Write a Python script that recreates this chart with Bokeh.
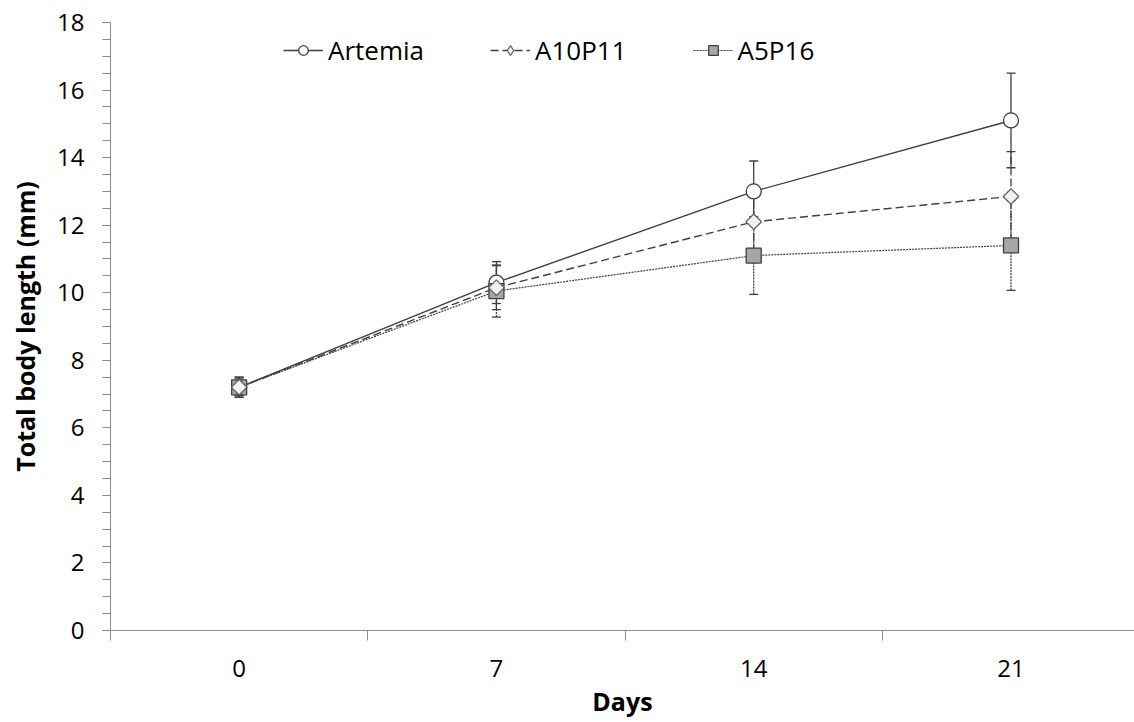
import numpy as np
from bokeh.plotting import figure
from bokeh.models import (ColumnDataSource, Whisker, TeeHead, FixedTicker,
                          Legend, LegendItem, Range1d)
from bokeh.embed import file_html
from bokeh.resources import INLINE

days = [0, 7, 14, 21]
tick_labels = ["0", "7", "14", "21"]
series_names = ["Artemia", "A10P11", "A5P16"]
artemia = [7.2, 10.3, 13.0, 15.1]
artemia_err = [0.3, 0.62, 0.9, 1.4]
a10p11 = [7.2, 10.15, 12.1, 12.85]
a10p11_err = [0.25, 0.65, 0.9, 1.33]
a5p16 = [7.2, 10.05, 11.1, 11.4]
a5p16_err = [0.3, 0.77, 1.15, 1.33]

FONT = "Open Sans"
DARK = "#3f3f3f"
AXIS = "#8c8c8c"

p = figure(width=1134, height=722, output_backend="svg", toolbar_location=None,
           x_range=Range1d(-3.5, 24.36), y_range=Range1d(0, 18),
           min_border_left=110, min_border_right=0, min_border_top=22,
           min_border_bottom=92)
p.outline_line_color = None
p.xgrid.visible = False
p.ygrid.visible = False
p.background_fill_color = "white"

def src(vals, errs):
    v = np.array(vals); e = np.array(errs)
    return ColumnDataSource(dict(x=days, y=vals, lo=list(v - e), hi=list(v + e)))

s_art = src(artemia, artemia_err)
s_a10 = src(a10p11, a10p11_err)
s_a5 = src(a5p16, a5p16_err)

def whisk(s, dash):
    w = Whisker(source=s, base="x", lower="lo", upper="hi",
                line_color=DARK, line_width=1.3, line_dash=dash,
                upper_head=TeeHead(size=9, line_color=DARK, line_width=1.3),
                lower_head=TeeHead(size=9, line_color=DARK, line_width=1.3))
    p.add_layout(w)

whisk(s_art, "solid")
whisk(s_a10, "8 3")
whisk(s_a5, "2 1")

# lines
l_art = p.line("x", "y", source=s_art, line_color=DARK, line_width=1.4)
l_a10 = p.line("x", "y", source=s_a10, line_color=DARK, line_width=1.4, line_dash="8 4")
l_a5 = p.line("x", "y", source=s_a5, line_color=DARK, line_width=1.2, line_dash="2 1")

# markers (draw order: circle, square, diamond)
m_art = p.scatter("x", "y", source=s_art, marker="circle", size=15,
                  fill_color="white", line_color=DARK, line_width=1.3)
m_a5 = p.scatter("x", "y", source=s_a5, marker="square", size=15,
                 fill_color="#a6a6a6", line_color=DARK, line_width=1.3)
m_a10 = p.scatter("x", "y", source=s_a10, marker="square", size=11, angle=np.pi / 4,
                  fill_color="#f2f2f2", line_color="#666666", line_width=1.3)
# legend-only diamond glyph (NaN point, never shown in the plot)
leg_diamond = p.scatter(x=[float("nan")], y=[float("nan")], marker="diamond", size=15,
                        fill_color="#f2f2f2", line_color="#666666", line_width=1.3)

# axes
p.xaxis.ticker = FixedTicker(ticks=days, minor_ticks=[-3.5, 3.5, 10.5, 17.5, 24.5])
p.xaxis.major_label_overrides = {d: t for d, t in zip(days, tick_labels)}
p.xaxis.major_tick_out = 0
p.xaxis.major_tick_in = 0
p.xaxis.minor_tick_out = 10
p.xaxis.minor_tick_in = 0
p.xaxis.major_label_standoff = 19
p.xaxis.axis_label = "Days"
p.xaxis.axis_label_standoff = 4

p.yaxis.ticker = FixedTicker(ticks=list(range(0, 19, 2)),
                             minor_ticks=list(np.arange(0, 18.01, 0.5)))
p.yaxis.major_tick_out = 8
p.yaxis.major_tick_in = 0
p.yaxis.minor_tick_out = 8
p.yaxis.minor_tick_in = 0
p.yaxis.major_label_standoff = 18
p.yaxis.axis_label = "Total body length (mm)"
p.yaxis.axis_label_standoff = 12

for ax in (p.xaxis, p.yaxis):
    ax.axis_line_color = AXIS
    ax.major_tick_line_color = AXIS
    ax.minor_tick_line_color = AXIS
    ax.major_label_text_font = FONT
    ax.major_label_text_font_size = "24px"
    ax.major_label_text_color = "black"
    ax.axis_label_text_font = FONT
    ax.axis_label_text_font_size = "25px"
    ax.axis_label_text_font_style = "bold"
    ax.axis_label_text_color = "black"

legend = Legend(items=[
    LegendItem(label=series_names[0], renderers=[l_art, m_art]),
    LegendItem(label=series_names[1], renderers=[l_a10, leg_diamond]),
    LegendItem(label=series_names[2], renderers=[l_a5, m_a5]),
], orientation="horizontal", location=(173, 560))
legend.glyph_width = 40
legend.glyph_height = 24
legend.label_height = 40
legend.label_standoff = 5
legend.spacing = 66
legend.padding = 0
legend.margin = 0
legend.border_line_color = None
legend.background_fill_alpha = 0
legend.label_text_font = FONT
legend.label_text_font_size = "26px"
legend.label_text_color = "black"
p.add_layout(legend)

open("out.html", "w").write(file_html(p, INLINE))
